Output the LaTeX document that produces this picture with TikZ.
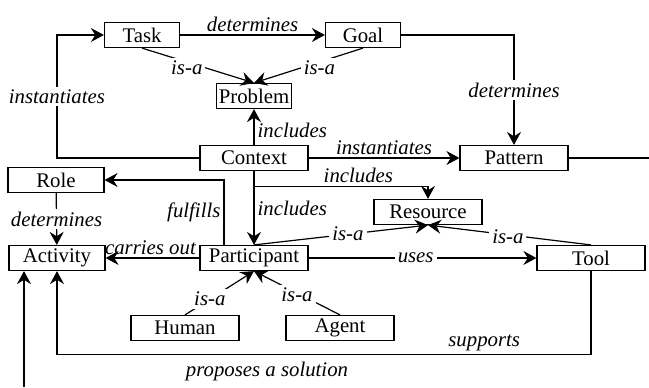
\documentclass[tikz,border=0pt]{standalone}
\usepackage{fontspec}
\setmainfont{Liberation Serif}
\usepackage{tikz}
\usetikzlibrary{arrows.meta}
\tikzset{
  box/.style={draw, line width=0.6pt, align=center, minimum width=54pt, minimum height=12.5pt, inner sep=1pt, font=\fontsize{10.4}{12}\selectfont},
  smallbox/.style={box, minimum width=37.5pt},
  sidebox/.style={box, minimum width=48pt},
  arrow/.style={-{Stealth[length=6.5pt, width=7pt, inset=2.2pt]}, line width=0.6pt},
  plain/.style={line width=0.6pt},
  lbl/.style={font=\fontsize{10.4}{12}\selectfont\itshape, inner sep=1.5pt},
  gap/.style={lbl, fill=white}
}

\begin{document}
\begin{tikzpicture}[x=0.5pt, y=-0.5pt]
  \useasboundingbox (0,0) rectangle (649,387);
  \node[smallbox] (Task) at (142,35) {Task};
  \node[smallbox] (Goal) at (363,35) {Goal};
  \node[smallbox] (Problem) at (254,96) {Problem};
  \node[box] (Context) at (254,158) {Context};
  \node[box] (Pattern) at (514,158) {Pattern};
  \node[sidebox] (Role) at (56,180) {Role};
  \node[box] (Resource) at (428,212) {Resource};
  \node[sidebox] (Activity) at (57,258) {Activity};
  \node[box] (Participant) at (254,258) {Participant};
  \node[box] (Tool) at (591,258) {Tool};
  \node[box] (Human) at (185,328) {Human};
  \node[box] (Agent) at (340,328) {Agent};
  \coordinate (patternout) at (649,158);
  \coordinate (solutionin) at (24,387);
  \node[lbl] (solutionlabel) at (267,371) {proposes a solution};

  \draw[arrow] (Task) -- node[lbl, above]{determines} (Goal);
  \draw[arrow] (Task.south) -- node[gap, pos=.4, yshift=-3pt]{is-a} (Problem.north);
  \draw[arrow] (Goal.south) -- node[gap, pos=.4, yshift=-3pt]{is-a} (Problem.north);
  \draw[arrow] (Goal) -| node[gap, pos=.75]{determines} (Pattern);
  \draw[arrow] (Context) -- node[lbl, right, pos=.4]{includes} (Problem);
  \draw[arrow] (Context) -| node[gap, pos=.75]{instantiates} ([xshift=-23.5pt]Task.west) -- (Task);
  \draw[arrow] (Context) -- node[lbl, above]{instantiates} (Pattern);
  \draw[plain] (Pattern) -- (patternout);
  \draw[arrow] (Context.south) -- ++(0,15) -| node[lbl, above, pos=.3]{includes} (Resource);
  \draw[arrow] (Context) -- node[lbl, right]{includes} (Participant);
  \draw[arrow] ([xshift=-15pt]Participant.north) |- node[lbl, left, pos=.25]{fulfills} (Role);
  \draw[arrow] (Role) -- node[gap]{determines} (Activity);
  \draw[arrow] (Participant) -- node[lbl, above left, pos=0]{carries out} (Activity);
  \draw[arrow] (Participant) -- node[gap, pos=.47]{uses} (Tool);
  \draw[arrow] (Participant.north) -- node[gap, pos=.54]{is-a} (Resource.south);
  \draw[arrow] (Tool.north) -- node[gap, pos=.51, yshift=-1pt]{is-a} (Resource.south);
  \draw[arrow] (Human.north) -- node[gap, pos=.36]{is-a} (Participant.south);
  \draw[arrow] (Agent.north) -- node[gap, pos=.5, yshift=-1pt]{is-a} (Participant.south);
  \draw[arrow] (Tool.south) |- node[lbl, above, pos=.6]{supports} ([yshift=-41.5pt]Activity.south) -- (Activity.south);
  \draw[arrow] (solutionin) -- (solutionin |- Activity.south);
\end{tikzpicture}
\end{document}
